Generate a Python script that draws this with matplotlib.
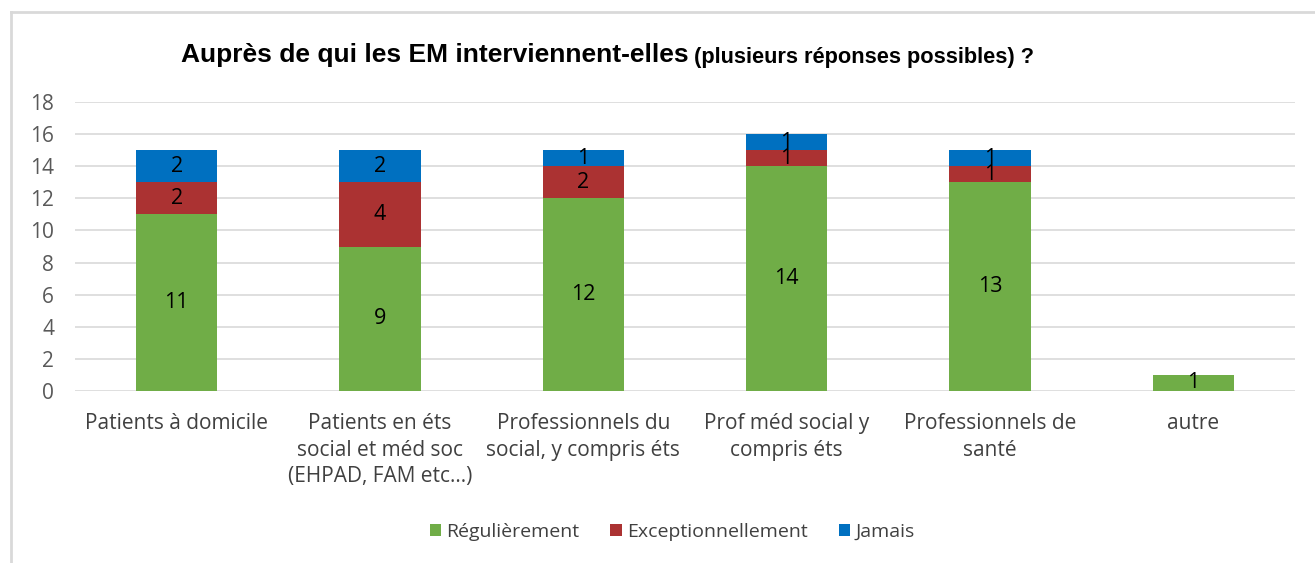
import matplotlib
matplotlib.use("Agg")
import matplotlib.pyplot as plt
import numpy as np
from matplotlib.lines import Line2D

categories = ["Patients à domicile",
              "Patients en éts\nsocial et méd soc\n(EHPAD, FAM etc...)",
              "Professionnels du\nsocial, y compris éts",
              "Prof méd social y\ncompris éts",
              "Professionnels de\nsanté",
              "autre"]
series_names = ["Régulièrement", "Exceptionnellement", "Jamais"]
regulierement = [11, 9, 12, 14, 13, 1]
exceptionnellement = [2, 4, 2, 1, 1, 0]
jamais = [2, 2, 1, 1, 1, 0]
yticks = [0, 2, 4, 6, 8, 10, 12, 14, 16, 18]

colors = ["#70AD47", "#AB3232", "#0070C0"]

W, H = 1315, 563
fig = plt.figure(figsize=(W / 100, H / 100), dpi=100)
ax = fig.add_axes([75 / W, 1 - 391 / H, 1220 / W, 289 / H])

x = np.arange(len(categories))
bottoms = np.zeros(len(categories))
handles = []
for vals, name, c in zip([regulierement, exceptionnellement, jamais], series_names, colors):
    vals = np.array(vals, dtype=float)
    b = ax.bar(x, vals, width=0.40, bottom=bottoms, color=c, label=name, zorder=3)
    handles.append(b)
    for xi, v, bt in zip(x, vals, bottoms):
        if v > 0:
            ax.text(xi, bt + v / 2, f"{int(v)}", ha="center", va="center",
                    fontsize=15.5, color="black", family="Open Sans", zorder=4)
    bottoms += vals

ax.set_xlim(-0.5, len(categories) - 0.5)
ax.set_ylim(0, 18)
ax.set_yticks(yticks)
ax.set_yticklabels([str(t) for t in yticks], fontsize=15, color="#595959", family="Open Sans")
ax.set_xticks(x)
ax.set_xticklabels(categories, fontsize=15, color="#404040", family="Open Sans", linespacing=1.35)
ax.tick_params(axis="both", length=0)
ax.tick_params(axis="y", pad=15)
ax.tick_params(axis="x", pad=16)
ax.grid(axis="y", color="#d9d9d9", linewidth=1.2, zorder=0)
for s in ax.spines.values():
    s.set_visible(False)

leg = fig.legend(handles=handles, labels=series_names, loc="center",
                 bbox_to_anchor=(672 / W, 1 - 532 / H), ncol=3, frameon=False,
                 prop={"family": "Open Sans", "size": 14}, handlelength=0.6, handleheight=0.6,
                 handletextpad=0.25, columnspacing=1.6, labelcolor="#404040")

# frame (top and left edges)
fig.add_artist(Line2D([11 / W, 1], [1 - 12 / H, 1 - 12 / H], transform=fig.transFigure,
                      color="#d9d9d9", linewidth=2))
fig.add_artist(Line2D([11 / W, 11 / W], [0, 1 - 12 / H], transform=fig.transFigure,
                      color="#d9d9d9", linewidth=2))

# title in two parts
t1 = fig.text(181 / W, 1 - 55 / H, "Auprès de qui les EM interviennent-elles", ha="left", va="center",
              fontsize=19, fontweight="bold", family=["Liberation Sans", "DejaVu Sans"], color="black")
fig.canvas.draw()
bb = t1.get_window_extent(renderer=fig.canvas.get_renderer())
fig.text((bb.x1 + 5) / W, 1 - 57 / H, "(plusieurs réponses possibles) ?", ha="left", va="center",
         fontsize=15.7, fontweight="bold", family=["Liberation Sans", "DejaVu Sans"], color="black")

fig.savefig("out.png", dpi=100)
